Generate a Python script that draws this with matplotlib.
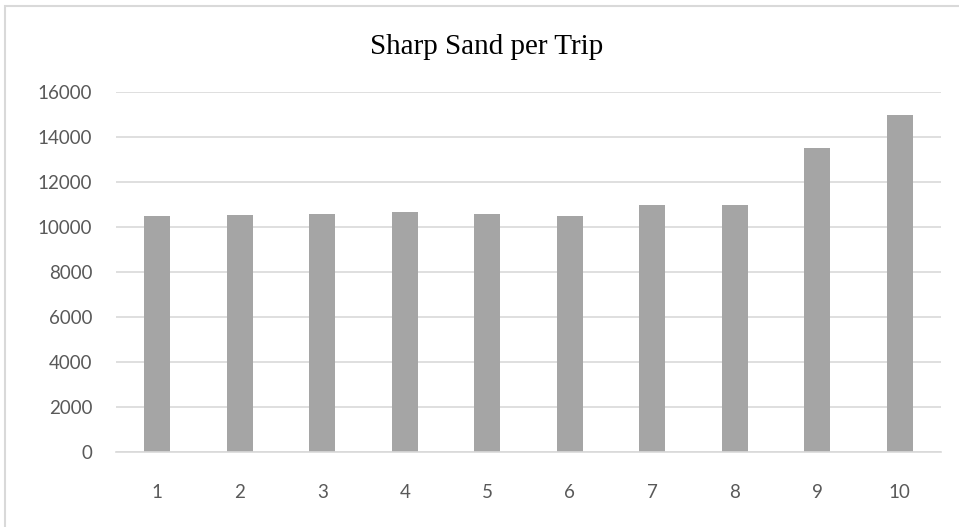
import matplotlib
matplotlib.use("Agg")
import matplotlib.pyplot as plt
from matplotlib.patches import Rectangle

trips = ["1", "2", "3", "4", "5", "6", "7", "8", "9", "10"]
sand = [10500, 10550, 10600, 10650, 10600, 10500, 11000, 11000, 13500, 15000]
yticks = [0, 2000, 4000, 6000, 8000, 10000, 12000, 14000, 16000]
title = "Sharp Sand per Trip"

W, H = 959, 527
fig = plt.figure(figsize=(W / 100, H / 100), dpi=100)
fig.patch.set_facecolor("white")

# outer chart border (light grey)
fig.add_artist(Rectangle((5 / W, -0.05), 1.2, 1 - 6 / H + 0.05, transform=fig.transFigure,
                         fill=False, edgecolor="#d9d9d9", linewidth=1.5))

left, right = 116 / W, 941 / W
bottom, top = 1 - 452 / H, 1 - 92 / H
ax = fig.add_axes([left, bottom, right - left, top - bottom])

x = list(range(len(trips)))
ax.bar(x, sand, width=0.315, color="#a5a5a5", zorder=3)
ax.set_xlim(-0.5, len(trips) - 0.5)
ax.set_ylim(0, 16000)
ax.set_yticks(yticks)
ax.set_yticklabels([str(v) for v in yticks])
ax.set_xticks(x)
ax.set_xticklabels(trips)

ax.grid(axis="y", color="#d9d9d9", linewidth=1.2, zorder=0)
for s in ["top", "right", "left"]:
    ax.spines[s].set_visible(False)
ax.spines["bottom"].set_color("#d9d9d9")
ax.spines["bottom"].set_linewidth(1.2)
ax.spines["bottom"].set_zorder(4)

ax.tick_params(axis="both", length=0, colors="#595959", labelsize=13.5)
ax.tick_params(axis="y", pad=17)
ax.tick_params(axis="x", pad=23)
for lab in ax.get_xticklabels() + ax.get_yticklabels():
    lab.set_fontfamily("Lato")

fig.text(0.5075, 1 - 47 / H, title, ha="center", va="center",
         fontsize=21, family="Liberation Serif", color="#000000")

fig.savefig("out.png", dpi=100, facecolor="white")
